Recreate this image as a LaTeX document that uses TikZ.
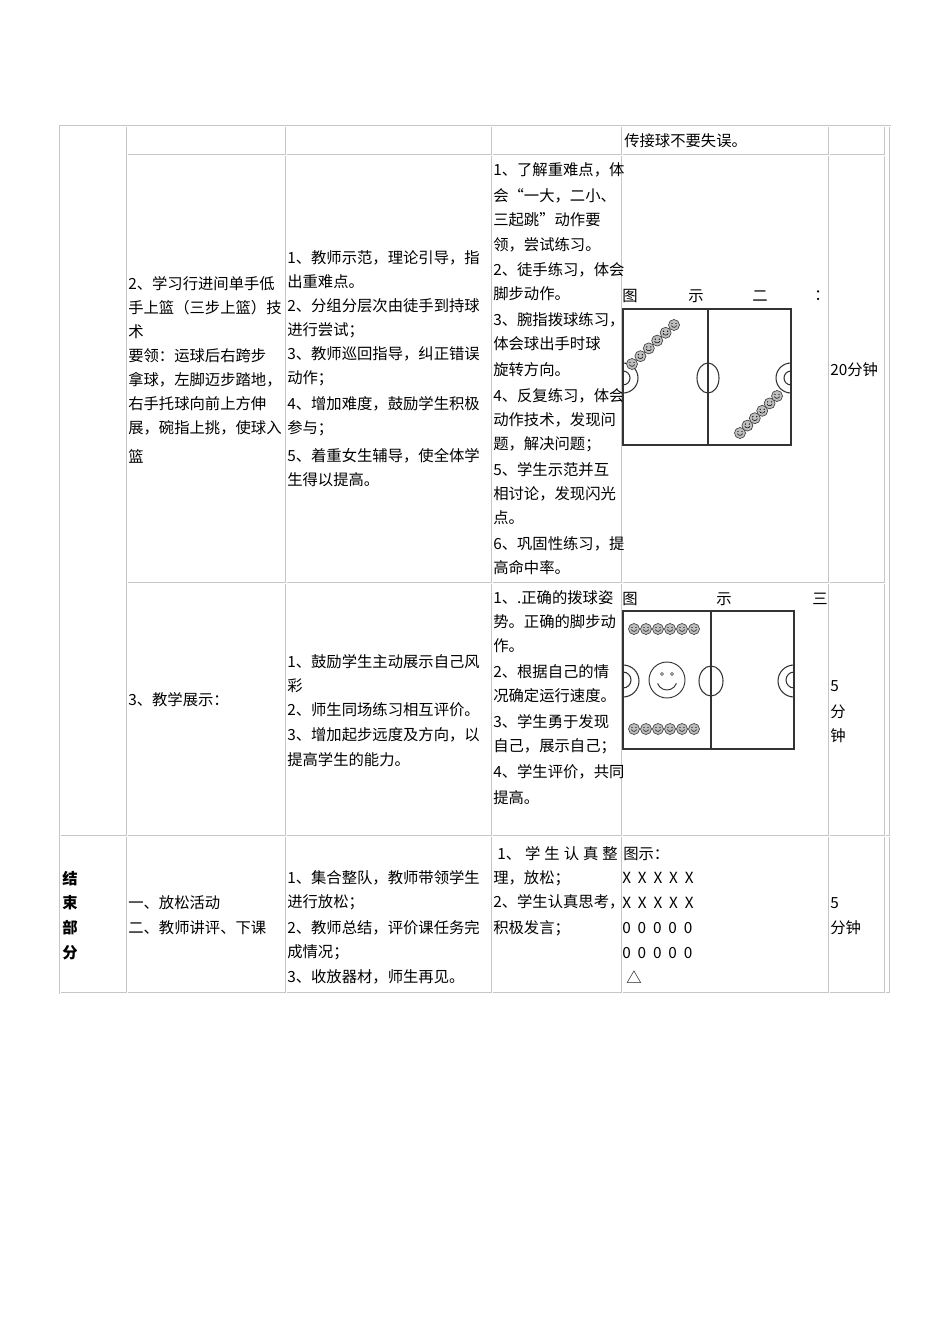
\documentclass[tikz,border=0pt]{standalone}
\usepackage{fontspec}
\setmainfont{Noto Sans CJK SC}
\begin{document}
\begin{tikzpicture}[x=0.75pt,y=-0.75pt,
 txt/.style={anchor=west,inner sep=0pt,font=\fontsize{11.5}{13}\selectfont},
 grid/.style={draw=gray!45,line width=2.2pt},
 gridin/.style={draw=white,line width=0.5pt},
 court/.style={draw=black!80,line width=0.8pt},
 ball/.pic={\draw[black!75,fill=gray!50,line width=0.5pt] (0,0) circle (5.5);
   \fill[black] (-2,-1.5) circle (0.7) (2,-1.5) circle (0.7);
   \draw[black,line width=0.4pt] (-2.5,0.5) arc (180:0:2.5 and 1.8);}]
\useasboundingbox (0,0) rectangle (950,1344);
% grid
\foreach \s in {grid,gridin}{
 \draw[\s] (60,126) rectangle (890,993);
 \draw[\s] (127,155) -- (885,155);
 \draw[\s] (127,583) -- (885,583);
 \draw[\s] (60,836) -- (890,836);
 \foreach \x in {127,286,492,622,829} \draw[\s] (\x,126) -- (\x,993);
 \draw[\s] (885,126) -- (885,993);
}
\newcommand\T[3]{\node[txt] at (#1,#2) {#3};}
% row 0
\T{624}{141}{传接球不要失误。}
% row 1 col2
\T{128}{284}{2、学习行进间单手低}
\T{128}{308}{手上篮（三步上篮）技}
\T{128}{332}{术}
\T{128}{356}{要领：运球后右跨步}
\T{128}{380}{拿球，左脚迈步踏地，}
\T{128}{404}{右手托球向前上方伸}
\T{128}{428}{展，碗指上挑，使球入}
\T{128}{456}{篮}
% col3
\T{287}{258}{1、教师示范，理论引导，指}
\T{287}{282}{出重难点。}
\T{287}{306}{2、分组分层次由徒手到持球}
\T{287}{330}{进行尝试；}
\T{287}{354}{3、教师巡回指导，纠正错误}
\T{287}{378}{动作；}
\T{287}{404}{4、增加难度，鼓励学生积极}
\T{287}{428}{参与；}
\T{287}{456}{5、着重女生辅导，使全体学}
\T{287}{480}{生得以提高。}
% col4
\T{493}{170}{1、了解重难点，体}
\T{493}{196}{会“一大，二小、}
\T{493}{220}{三起跳”动作要}
\T{493}{245}{领，尝试练习。}
\T{493}{270}{2、徒手练习，体会}
\T{493}{294}{脚步动作。}
\T{493}{320}{3、腕指拨球练习，}
\T{493}{344}{体会球出手时球}
\T{493}{370}{旋转方向。}
\T{493}{396}{4、反复练习，体会}
\T{493}{420}{动作技术，发现问}
\T{493}{444}{题，解决问题；}
\T{493}{470}{5、学生示范并互}
\T{493}{494}{相讨论，发现闪光}
\T{493}{518}{点。}
\T{493}{544}{6、巩固性练习，提}
\T{493}{568}{高命中率。}
% col5 diagram 2
\T{622}{296}{图}\T{688}{296}{示}\T{752}{296}{二}\T{814}{296}{：}
\draw[court] (623,309) rectangle (791,445);
\draw[court] (708,309) -- (708,445);
\draw[court] (708,378) ellipse (11 and 15);
\draw[court] (623,363) arc (270:450:15);
\draw[court] (623,371) arc (270:450:7);
\draw[court] (791,363) arc (270:90:15);
\draw[court] (791,371) arc (270:90:7);
\foreach \i in {0,...,5}{
 \pic at ({632+8.4*\i},{364-7.8*\i}) {ball};
 \pic at ({740+7.4*\i},{433-7.4*\i}) {ball};}
\T{830}{370}{20分钟}
% row 2
\T{128}{700}{3、教学展示：}
\T{287}{662}{1、鼓励学生主动展示自己风}
\T{287}{686}{彩}
\T{287}{710}{2、师生同场练习相互评价。}
\T{287}{735}{3、增加起步远度及方向，以}
\T{287}{760}{提高学生的能力。}
\T{493}{598}{1、.正确的拨球姿}
\T{493}{622}{势。正确的脚步动}
\T{493}{646}{作。}
\T{493}{672}{2、根据自己的情}
\T{493}{696}{况确定运行速度。}
\T{493}{722}{3、学生勇于发现}
\T{493}{746}{自己，展示自己；}
\T{493}{772}{4、学生评价，共同}
\T{493}{798}{提高。}
\T{622}{599}{图}\T{716}{599}{示}\T{812}{599}{三}
\draw[court] (623,611) rectangle (794,749);
\draw[court] (711,611) -- (711,749);
\draw[court] (711,681) ellipse (12 and 15);
\draw[court] (623,665) arc (270:450:16);
\draw[court] (623,672) arc (270:450:8);
\draw[court] (794,665) arc (270:90:16);
\draw[court] (794,672) arc (270:90:8);
\foreach \i in {0,...,5}{
 \pic at ({634+12*\i},629) {ball};
 \pic at ({634+12*\i},729) {ball};}
\draw[black!80,line width=0.7pt] (667,680) circle (18);
\draw[black!80,line width=0.5pt] (662,674) circle (1.5) (672,674) circle (1.5);
\draw[black!80,line width=0.7pt] (667,680) ++(160:10) arc (160:20:10);
\T{830}{686}{5}\T{830}{712}{分}\T{830}{736}{钟}
% row 3
\node[txt,font=\fontsize{11.5}{13}\selectfont\bfseries] at (62,879) {结};
\node[txt,font=\fontsize{11.5}{13}\selectfont\bfseries] at (62,903) {束};
\node[txt,font=\fontsize{11.5}{13}\selectfont\bfseries] at (62,928) {部};
\node[txt,font=\fontsize{11.5}{13}\selectfont\bfseries] at (62,953) {分};
\T{128}{903}{一、放松活动}
\T{128}{928}{二、教师讲评、下课}
\T{287}{878}{1、集合整队，教师带领学生}
\T{287}{902}{进行放松；}
\T{287}{928}{2、教师总结，评价课任务完}
\T{287}{952}{成情况；}
\T{287}{977}{3、收放器材，师生再见。}
\T{497}{854}{1、\hspace{3pt}学\hspace{3pt}生\hspace{3pt}认\hspace{3pt}真\hspace{3pt}整}
\T{493}{878}{理，放松；}
\T{493}{902}{2、学生认真思考，}
\T{493}{928}{积极发言；}
\T{623}{854}{图示：}
\T{622}{878}{X\ \ X\ \ X\ \ X\ \ X}
\T{622}{903}{X\ \ X\ \ X\ \ X\ \ X}
\T{622}{928}{0\ \ 0\ \ 0\ \ 0\ \ 0}
\T{622}{953}{0\ \ 0\ \ 0\ \ 0\ \ 0}
\T{626}{977}{△}
\T{830}{903}{5}
\T{830}{928}{分钟}
\end{tikzpicture}
\end{document}
